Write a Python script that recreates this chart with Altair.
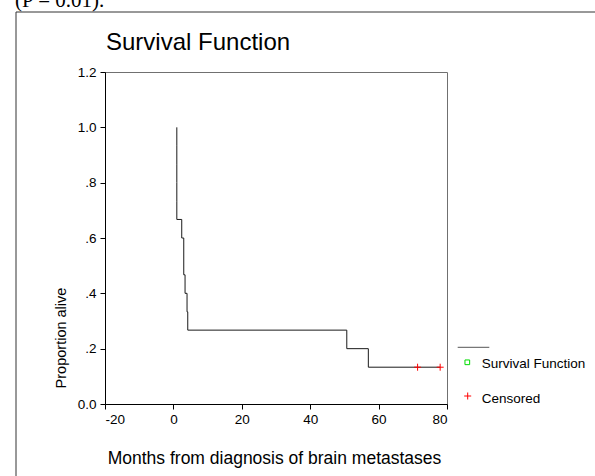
import altair as alt
import pandas as pd

# Kaplan-Meier step points (months, proportion alive)
event_times = [1.0, 1.0, 1.0, 1.0, 1.0, 1.0, 2.44, 3.03, 3.41, 3.99, 4.2, 50.7, 57.0, 78.0]
survival = [1.0, 0.933, 0.867, 0.8, 0.733, 0.667, 0.6, 0.467, 0.4, 0.333, 0.267, 0.2, 0.133, 0.133]

# censored observations
censor_times = [71.4, 78.0]
censor_surv = [0.133, 0.133]

x_ticks = [-20, 0, 20, 40, 60, 80]
y_ticks = [0.0, 0.2, 0.4, 0.6, 0.8, 1.0, 1.2]

chart_title = "Survival Function"
x_title = "Months from diagnosis of brain metastases"
y_title = "Proportion alive"
legend_labels = ["Survival Function", "Censored"]
page_text = "(P = 0.01)."

FONT = "Liberation Sans"

surv_df = pd.DataFrame({"t": event_times, "s": survival, "i": list(range(len(event_times)))})
cens_df = pd.DataFrame({"t": censor_times, "s": censor_surv})
one = pd.DataFrame({"a": [0]})

xs = alt.Scale(domain=[-20, 80], nice=False, zero=False)
ys = alt.Scale(domain=[0, 1.2], nice=False)

x_axis = alt.Axis(values=x_ticks, title=None, grid=False, tickSize=5, labelPadding=3,
                  labelFontSize=13.5, labelFont=FONT, labelColor="black",
                  domainColor="black", tickColor="black",
                  labelExpr="'' + datum.value")
y_axis = alt.Axis(values=y_ticks, title=None, grid=False, tickSize=5, labelPadding=4,
                  labelFontSize=13.5, labelFont=FONT, labelColor="black",
                  domainColor="black", tickColor="black",
                  labelExpr="datum.value > 0 && datum.value < 1 ? replace(format(datum.value, '.1f'), '0.', '.') : format(datum.value, '.1f')")

frame = alt.Chart(one).mark_rect(fillOpacity=0, stroke="#333333", strokeWidth=1).encode(
    x=alt.value(-89), y=alt.value(-60), x2=alt.value(600), y2=alt.value(520))

line = alt.Chart(surv_df).mark_line(interpolate="step-after", color="#1a1a1a", strokeWidth=1).encode(
    x=alt.X("t:Q", scale=xs, axis=x_axis),
    y=alt.Y("s:Q", scale=ys, axis=y_axis),
    order="i:Q",
)

cens = alt.Chart(cens_df).mark_point(shape="M-1,0H1M0,-1V1", size=49, filled=False,
                                     color="red", strokeWidth=1, opacity=1).encode(
    x=alt.X("t:Q", scale=xs, axis=x_axis), y=alt.Y("s:Q", scale=ys, axis=y_axis))

title_txt = alt.Chart(one).mark_text(text=chart_title, font=FONT, fontSize=24, align="left",
                                     baseline="alphabetic", color="black").encode(
    x=alt.value(1), y=alt.value(-22))

xtitle = alt.Chart(one).mark_text(text=x_title, font=FONT, fontSize=17.5, align="center",
                                  baseline="alphabetic", color="black").encode(
    x=alt.value(169.5), y=alt.value(392))

ytitle = alt.Chart(one).mark_text(text=y_title, font=FONT, fontSize=14.5, align="center",
                                  baseline="alphabetic", angle=270, color="black").encode(
    x=alt.value(-39), y=alt.value(266))

page = alt.Chart(one).mark_text(text=page_text, font="Liberation Serif", fontSize=21, align="left",
                                baseline="alphabetic", color="black").encode(
    x=alt.value(-90), y=alt.value(-65))

leg_line = alt.Chart(one).mark_rule(color="#555555", strokeWidth=1).encode(
    x=alt.value(352.7), x2=alt.value(384.3), y=alt.value(275.3))
leg_sq = alt.Chart(one).mark_point(shape="square", size=22, filled=False, color="#00dd00",
                                   strokeWidth=1, opacity=1).encode(
    x=alt.value(362.3), y=alt.value(290.3))
leg_sq_txt = alt.Chart(one).mark_text(text=legend_labels[0], font=FONT, fontSize=13.5, align="left",
                                      baseline="alphabetic", color="black").encode(
    x=alt.value(376.7), y=alt.value(296.3))
leg_plus = alt.Chart(one).mark_point(shape="M-1,0H1M0,-1V1", size=49, filled=False, color="red",
                                     strokeWidth=1, opacity=1).encode(
    x=alt.value(362.7), y=alt.value(324))
leg_plus_txt = alt.Chart(one).mark_text(text=legend_labels[1], font=FONT, fontSize=13.5, align="left",
                                        baseline="alphabetic", color="black").encode(
    x=alt.value(376.7), y=alt.value(330.7))

chart = alt.layer(
    frame, line, cens, title_txt, xtitle, ytitle, page,
    leg_line, leg_sq, leg_sq_txt, leg_plus, leg_plus_txt,
).properties(
    width=342, height=332,
    padding={"left": 105, "top": 72, "right": 148, "bottom": 72},
    autosize=alt.AutoSizeParams(type="none"),
    background="white",
).configure_view(
    stroke="#707070", strokeWidth=1
).configure_axis(
    labelFontSize=13.5, labelFont=FONT, labelColor="black"
)

chart.save("out.html", embed_options={"renderer": "svg", "actions": False})
